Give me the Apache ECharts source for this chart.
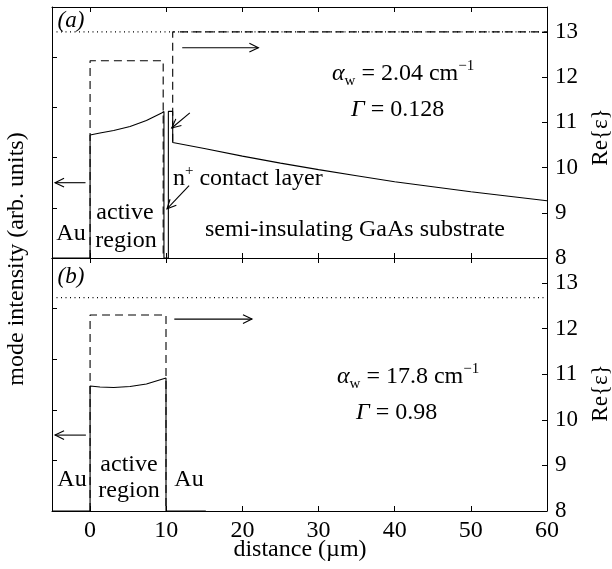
<!DOCTYPE html>
<html><head><meta charset="utf-8">
<script src="https://cdn.jsdelivr.net/npm/echarts@6/dist/echarts.min.js"></script>
<style>html,body{margin:0;padding:0;background:#fff}#c{width:612px;height:569px}</style>
</head><body><div id="c"></div><script>
// ---------- data ----------
const xTickValues = [0, 10, 20, 30, 40, 50, 60];
const epsTickValues = [8, 9, 10, 11, 12, 13];
// panel (a): mode intensity (left axis) and Re{eps} (right axis)
const aIntensity = [[-5,0],[0,0],[0,2.45],[1.3,2.49],[3.1,2.54],[5.25,2.62],[7.4,2.74],[9.4,2.89],[9.7,2.92],[9.7,0],[10.28,0],[10.28,2.92],[10.85,2.92],[10.85,2.30],[15,2.18],[20,2.03],[25,1.89],[30,1.76],[35,1.64],[40,1.52],[45,1.42],[50,1.32],[55,1.23],[60,1.14]];
const aEpsActive = [[0,8],[0,12.36],[9.6,12.36],[9.6,8]];
const aEpsSubstrate = [[10.85,10.57],[10.85,13],[60,13]];
const aEpsRef = [[-5,13],[60,13]];
// panel (b)
const bIntensity = [[-5,0],[0,0],[0,2.47],[1.3,2.45],[3.1,2.44],[5.25,2.46],[7.4,2.51],[9.97,2.63],[9.97,0],[15.2,0]];
const bEpsActive = [[0,8],[0,12.3],[9.97,12.3],[9.97,8]];
const bEpsRef = [[-5,12.68],[60,12.68]];
// arrows: [xAxisIndex, yAxisIndex, from, to]
const arrows = [
  [0,0,[-0.6,1.5],[-4.6,1.5]],
  [0,1,[12.1,12.65],[22.1,12.65]],
  [0,0,[13.1,2.89],[10.72,2.59]],
  [0,0,[13.0,1.44],[10.1,0.98]],
  [2,2,[-0.55,1.5],[-4.6,1.5]],
  [2,3,[11.06,12.21],[21.26,12.21]]
];

// ---------- chart ----------
const FF = "'Liberation Serif','DejaVu Serif',serif";
const FS = 24;
const chart = echarts.init(document.getElementById('c'), null, {renderer:'canvas'});
const black = '#000';
function xAx(grid, pos, labels){
  return {type:'value', gridIndex:grid, position:pos, min:-5, max:60,
    axisLine:{show:true, onZero:false, lineStyle:{color:black, width:1}},
    axisTick:{show:true, inside:true, length:5, customValues:xTickValues, lineStyle:{color:black}},
    axisLabel:{show:labels, customValues:xTickValues, color:black, fontFamily:FF, fontSize:FS, margin:8},
    splitLine:{show:false}};
}
function yLeft(grid){
  return {type:'value', gridIndex:grid, position:'left', min:0, max:5, interval:1,
    axisLine:{show:true, onZero:false, lineStyle:{color:black, width:1}},
    axisTick:{show:true, inside:true, length:5, lineStyle:{color:black}},
    axisLabel:{show:false}, splitLine:{show:false}};
}
function yRight(grid){
  return {type:'value', gridIndex:grid, position:'right', min:8, max:13.55,
    axisLine:{show:true, onZero:false, lineStyle:{color:black, width:1}},
    axisTick:{show:true, inside:true, length:5, customValues:epsTickValues, lineStyle:{color:black}},
    axisLabel:{show:true, customValues:epsTickValues, color:black, fontFamily:FF, fontSize:23, margin:8},
    splitLine:{show:false}};
}
function ln(data, xi, yi, type, w){
  return {type:'line', data:data, xAxisIndex:xi, yAxisIndex:yi, symbol:'none', silent:true, animation:false,
    lineStyle:{color:black, width:w||1.1, type:type||'solid'}, clip:true};
}
const option = {
  animation:false,
  backgroundColor:'#fff',
  grid:[
    {left:52, right:65, top:7, height:251},
    {left:52, right:65, top:258, height:253}
  ],
  xAxis:[xAx(0,'bottom',false), xAx(0,'top',false), xAx(1,'bottom',true), xAx(1,'top',false)],
  yAxis:[yLeft(0), yRight(0), yLeft(1), yRight(1)],
  series:[
    ln(aEpsRef,0,1,[1,3.5],1.1),
    ln(aEpsActive,0,1,[8,5]),
    ln(aEpsSubstrate,0,1,[8,5]),
    ln(aIntensity,0,0),
    ln(bEpsRef,2,3,[1,3.5],1.1),
    ln(bEpsActive,2,3,[8,5]),
    ln(bIntensity,2,2)
  ]
};
chart.setOption(option);

function txt(t, x, y, opts){
  opts = opts || {};
  return {type:'text', x:x, y:y, rotation:opts.rot||0, silent:true,
    style:{text:t, fill:black, font:(opts.italic?'italic ':'')+(opts.size||FS)+'px '+FF,
      textAlign:opts.align||'center', align:opts.align||'center',
      textVerticalAlign:'middle', verticalAlign:'middle', rich:opts.rich}};
}
const richMath = {
  i:{fontFamily:FF, fontStyle:'italic', fontSize:FS, lineHeight:30},
  n:{fontFamily:FF, fontSize:FS, lineHeight:30},
  s:{fontFamily:FF, fontSize:15, lineHeight:12, verticalAlign:'bottom'},
  p:{fontFamily:FF, fontSize:15, lineHeight:19, verticalAlign:'top'}
};
const graphics = [
  txt('(a)', 71, 21, {italic:true, size:23}),
  txt('(b)', 71, 277, {italic:true, size:23}),
  txt('{i|α}{s|w}{n| = 2.04 cm}{p|−1}', 332, 74, {align:'left', rich:richMath}),
  txt('{i|Γ}{n| = 0.128}', 351, 110, {align:'left', rich:richMath}),
  txt('{i|α}{s|w}{n| = 17.8 cm}{p|−1}', 337, 377, {align:'left', rich:richMath}),
  txt('{i|Γ}{n| = 0.98}', 356, 413, {align:'left', rich:richMath}),
  txt('{n|n}{p|+}{n| contact layer}', 173, 179, {align:'left', rich:richMath}),
  txt('Au', 71, 234),
  txt('active', 125, 213),
  txt('region', 126, 241),
  txt('semi-insulating GaAs substrate', 355, 230),
  txt('Au', 72, 480),
  txt('active', 129, 465),
  txt('region', 129, 491),
  txt('Au', 189, 480),
  txt('distance (µm)', 300, 550),
  txt('mode intensity (arb. units)', 17, 259, {rot:Math.PI/2}),
  txt('Re{ε}', 601, 137, {rot:Math.PI/2, size:23}),
  txt('Re{ε}', 601, 393, {rot:Math.PI/2, size:23})
];
arrows.forEach(function(a){
  const p0 = chart.convertToPixel({xAxisIndex:a[0], yAxisIndex:a[1]}, a[2]);
  const p1 = chart.convertToPixel({xAxisIndex:a[0], yAxisIndex:a[1]}, a[3]);
  const ang = Math.atan2(p1[1]-p0[1], p1[0]-p0[0]);
  const L = 10, da = 0.45;
  const h1 = [p1[0]-L*Math.cos(ang-da), p1[1]-L*Math.sin(ang-da)];
  const h2 = [p1[0]-L*Math.cos(ang+da), p1[1]-L*Math.sin(ang+da)];
  graphics.push({type:'polyline', silent:true, shape:{points:[p0,p1]}, style:{stroke:black, lineWidth:1.1, fill:null}});
  graphics.push({type:'polyline', silent:true, shape:{points:[h1,p1,h2]}, style:{stroke:black, lineWidth:1.1, fill:null}});
});
chart.setOption({graphic:graphics});
</script></body></html>
